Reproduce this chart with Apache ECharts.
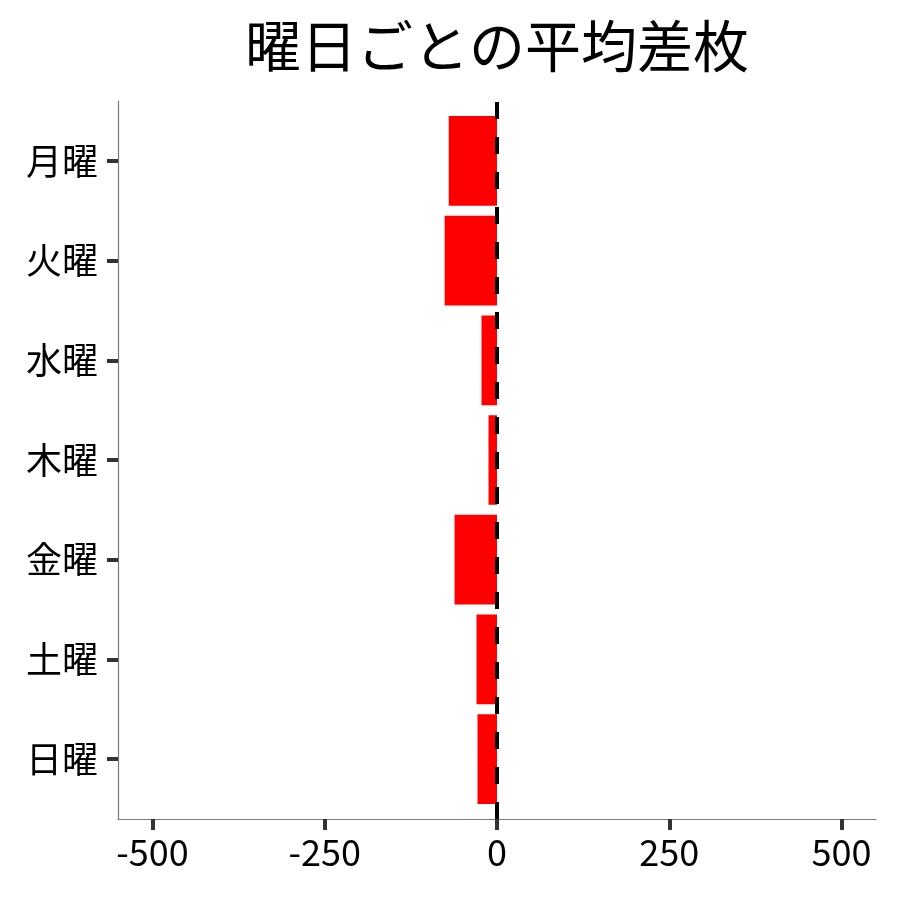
<!DOCTYPE html>
<html><head><meta charset="utf-8">
<script src="https://cdn.jsdelivr.net/npm/echarts@6/dist/echarts.min.js"></script>
<style>html,body{margin:0;padding:0;background:#fff}#c{width:900px;height:900px}</style>
</head><body><div id="c"></div>
<script>
const titleText = '曜日ごとの平均差枚';
const days = ['月曜','火曜','水曜','木曜','金曜','土曜','日曜'];
const avgDiff = [-70, -76, -22.5, -12.3, -61.6, -29.7, -28.3];
const xTicks = [-500, -250, 0, 250, 500];
const xMin = -550, xMax = 550;
const refValue = 0;
const FONT = '"Noto Sans CJK JP", "Noto Sans", sans-serif';
const chart = echarts.init(document.getElementById('c'), null, {renderer:'canvas'});
chart.setOption({
  backgroundColor:'#fff',
  animation:false,
  graphic:[{type:'text', x:497, y:46, style:{text:titleText, font:'56px "Noto Sans CJK JP"', fill:'#000', textAlign:'center', textVerticalAlign:'middle'}}],
  grid:[
   {left:118, right:24, top:111, bottom:91},
   {left:118, right:24, top:101, bottom:81}
  ],
  xAxis:[
   {gridIndex:0, type:'value', min:xMin, max:xMax, show:false},
   {gridIndex:1, type:'value', min:xMin, max:xMax, splitLine:{show:false},
    axisLine:{show:true, onZero:false, lineStyle:{color:'#777', width:1.2}},
    axisTick:{show:true, length:11, lineStyle:{color:'#333', width:4}, customValues:xTicks},
    axisLabel:{customValues:xTicks, fontSize:36, color:'#000', fontFamily:FONT, margin:15}}
  ],
  yAxis:[
   {gridIndex:0, type:'category', inverse:true, data:days,
    axisLine:{show:false, onZero:false},
    axisTick:{show:true, alignWithLabel:true, length:11, lineStyle:{color:'#333', width:4}},
    axisLabel:{fontSize:36, color:'#000', fontFamily:FONT, margin:20}, splitLine:{show:false}},
   {gridIndex:1, type:'value', min:0, max:1,
    axisLine:{show:true, onZero:false, lineStyle:{color:'#777', width:1.2}},
    axisTick:{show:false}, axisLabel:{show:false}, splitLine:{show:false}}
  ],
  series:[
   {type:'bar', xAxisIndex:0, yAxisIndex:0, data:avgDiff, barWidth:'90%', itemStyle:{color:'#ff0000'}, z:2},
   {type:'line', xAxisIndex:1, yAxisIndex:1, data:[], z:5,
    markLine:{silent:true, symbol:'none', label:{show:false}, lineStyle:{type:[17,18], color:'#000', width:4}, data:[{xAxis:refValue}]}}
  ]
});
</script></body></html>
